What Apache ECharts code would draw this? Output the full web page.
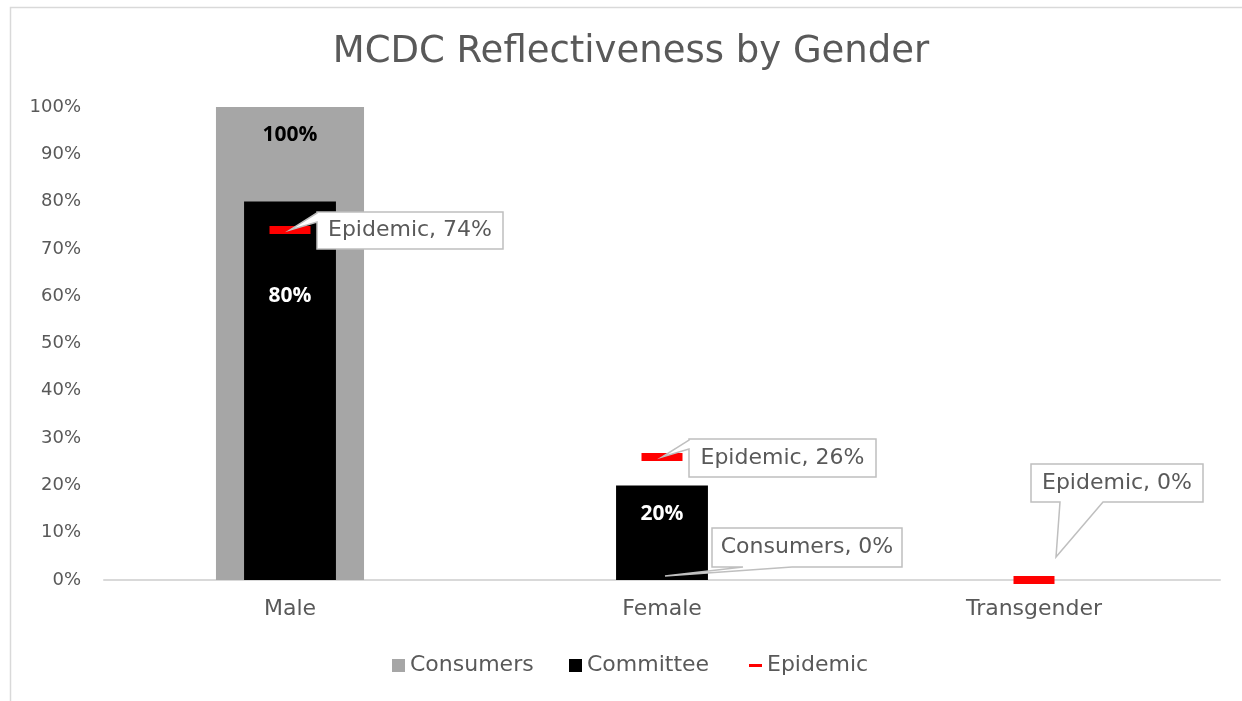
<!DOCTYPE html>
<html>
<head>
<meta charset="utf-8">
<title>MCDC Reflectiveness by Gender</title>
<script src="https://cdn.jsdelivr.net/npm/echarts@6/dist/echarts.min.js"></script>
<style>
  html, body { margin: 0; padding: 0; background: #ffffff; }
  #chart { width: 1242px; height: 701px; }
</style>
</head>
<body>
<div id="chart"></div>
<script>
// Share of each gender group, as fractions of 1
const categories = ['Male', 'Female', 'Transgender'];
const consumers = [1.00, 0.00, 0.00];
const committee = [0.80, 0.20, 0.00];
const epidemic = [0.74, 0.26, 0.00];

// Which values get a bold label inside their bar
const consumerLabelShown = [true, false, false];
const committeeLabelShown = [true, true, false];

// Callout boxes: which point they annotate (series + category index)
const callouts = [
  { series: 'Epidemic', cat: 0 },
  { series: 'Epidemic', cat: 1 },
  { series: 'Consumers', cat: 1 },
  { series: 'Epidemic', cat: 2 }
];

const TEXT = '#595959';
const FONT = '"DejaVu Sans", sans-serif';

// Placement of each callout box relative to the point it annotates (pixels)
const calloutLayout = [
  { dx: 27, dy: -18, w: 186, h: 37, side: 'left', b1: 1, b2: 10, tip: [0, 0] },
  { dx: 27, dy: -18, w: 187, h: 38, side: 'left', b1: 1, b2: 10, tip: [0, 0] },
  { dx: 50, dy: -52, w: 190, h: 39, side: 'bottom', b1: 31, b2: 80, tip: [3, -4] },
  { dx: -3, dy: -116, w: 172, h: 38, side: 'bottom', b1: 29, b2: 72, tip: [22, -23] }
];
// Distance of the bar labels below the top of their bar
const consumerLabelDist = [18, 0, 0];
const committeeLabelDist = [84, 18, 0];

const seriesValues = { Consumers: consumers, Committee: committee, Epidemic: epidemic };
const pct = v => Math.round(v * 100) + '%';

const chart = echarts.init(document.getElementById('chart'), null, { renderer: 'canvas' });

const boldLabel = (color) => ({
  show: true,
  position: 'insideTop',
  color: color,
  fontFamily: '"Open Sans", sans-serif',
  fontWeight: 'bold',
  fontSize: 21,
  formatter: p => pct(p.value)
});

const legendText = { color: TEXT, fontSize: 22, fontFamily: FONT };

const option = {
  backgroundColor: '#ffffff',
  animation: false,
  textStyle: { fontFamily: FONT },
  title: {
    text: 'MCDC Reflectiveness by Gender',
    left: 626,
    top: 29,
    textAlign: 'center',
    textStyle: { color: TEXT, fontSize: 37, fontWeight: 'normal', fontFamily: FONT }
  },
  graphic: [{
    type: 'rect',
    x: 10.5, y: 7.5,
    shape: { width: 1400, height: 900 },
    style: { fill: 'none', stroke: '#d9d9d9', lineWidth: 1.5 },
    silent: true
  }],
  legend: [
    {
      data: [{ name: 'Consumers', icon: 'rect' }],
      left: 392, top: 654.5, padding: 0,
      itemWidth: 13, itemHeight: 13,
      textStyle: legendText
    },
    {
      data: [{ name: 'Committee', icon: 'rect' }],
      left: 569, top: 654.5, padding: 0,
      itemWidth: 13, itemHeight: 13,
      textStyle: legendText
    },
    {
      data: [{ name: 'Epidemic', icon: 'rect' }],
      left: 749, top: 654.5, padding: 0,
      itemWidth: 13, itemHeight: 3,
      textStyle: legendText
    }
  ],
  grid: { left: 104, right: 22, top: 107, bottom: 121, containLabel: false },
  xAxis: [
    {
      type: 'category',
      data: categories,
      axisLine: { show: true, lineStyle: { color: '#d9d9d9', width: 2 } },
      axisTick: { show: false },
      axisLabel: { color: TEXT, fontSize: 22, fontFamily: FONT, margin: 18 }
    },
    { type: 'category', data: categories, show: false }
  ],
  yAxis: {
    type: 'value',
    min: 0, max: 1, interval: 0.1,
    axisLine: { show: false },
    axisTick: { show: false },
    splitLine: { show: false },
    axisLabel: { color: TEXT, fontSize: 18, fontFamily: FONT, margin: 23, formatter: v => pct(v) }
  },
  series: [
    {
      name: 'Consumers',
      type: 'bar',
      xAxisIndex: 0,
      barWidth: '39.8%',
      itemStyle: { color: '#a6a6a6' },
      data: consumers.map((v, i) => ({
        value: v,
        label: Object.assign(boldLabel('#000000'), { show: consumerLabelShown[i], distance: consumerLabelDist[i] })
      })),
      z: 2
    },
    {
      name: 'Committee',
      type: 'bar',
      xAxisIndex: 1,
      barWidth: '24.7%',
      itemStyle: { color: '#000000' },
      data: committee.map((v, i) => ({
        value: v,
        label: Object.assign(boldLabel('#ffffff'), { show: committeeLabelShown[i], distance: committeeLabelDist[i] })
      })),
      z: 3
    },
    {
      name: 'Epidemic',
      type: 'custom',
      xAxisIndex: 0,
      itemStyle: { color: '#ff0000' },
      data: epidemic.map((v, i) => [i, v]),
      renderItem: (params, api) => {
        const p = api.coord([api.value(0), api.value(1)]);
        const w = 41, h = 8;
        return {
          type: 'rect',
          shape: { x: p[0] - w / 2, y: p[1] - h / 2, width: w, height: h },
          style: { fill: '#ff0000' }
        };
      },
      z: 5
    },
    {
      name: 'callouts',
      type: 'custom',
      xAxisIndex: 0,
      silent: true,
      data: callouts.map(c => [c.cat, seriesValues[c.series][c.cat]]),
      renderItem: (params, api) => {
        const c = callouts[params.dataIndex];
        const L = calloutLayout[params.dataIndex];
        const p = api.coord([api.value(0), api.value(1)]);
        const x0 = p[0] + L.dx, y0 = p[1] + L.dy;
        const x1 = x0 + L.w, y1 = y0 + L.h;
        const tip = [p[0] + L.tip[0], p[1] + L.tip[1]];
        let pts;
        if (L.side === 'left') {
          pts = [[x0, y0], [x1, y0], [x1, y1], [x0, y1], [x0, y0 + L.b2], tip, [x0, y0 + L.b1]];
        } else {
          pts = [[x0, y0], [x1, y0], [x1, y1], [x0 + L.b2, y1], tip, [x0 + L.b1, y1], [x0, y1]];
        }
        return {
          type: 'group',
          children: [
            {
              type: 'polygon',
              shape: { points: pts },
              style: { fill: '#ffffff', stroke: '#bfbfbf', lineWidth: 1.5 }
            },
            {
              type: 'text',
              x: (x0 + x1) / 2,
              y: (y0 + y1) / 2,
              style: {
                text: c.series + ', ' + pct(api.value(1)),
                fill: TEXT,
                font: '22px ' + FONT,
                align: 'center',
                verticalAlign: 'middle'
              }
            }
          ]
        };
      },
      z: 10
    }
  ]
};

chart.setOption(option);
</script>
</body>
</html>
